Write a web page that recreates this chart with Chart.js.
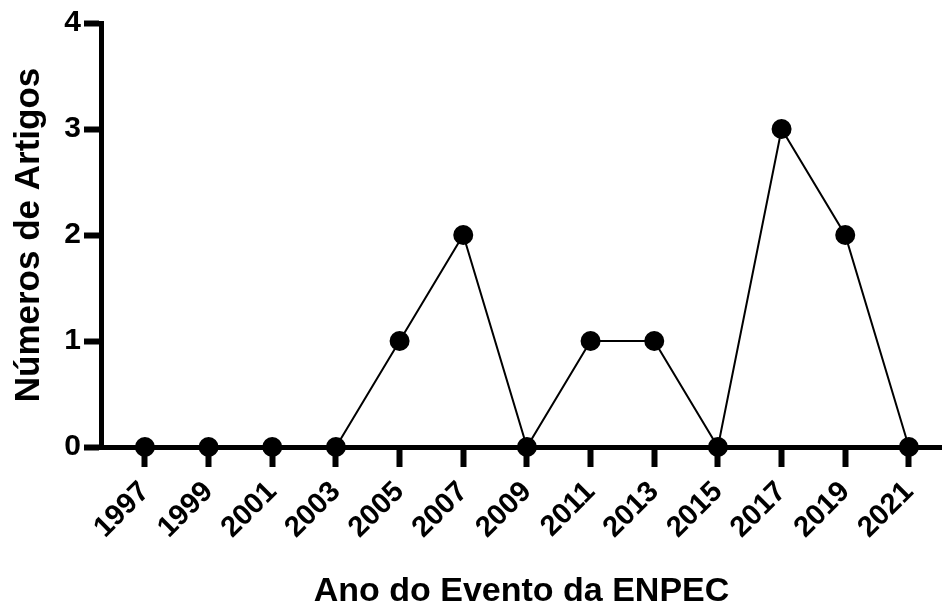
<!DOCTYPE html>
<html>
<head>
<meta charset="utf-8">
<script src="https://cdn.jsdelivr.net/npm/chart.js@4"></script>
<style>
  html, body { margin: 0; padding: 0; background: #fff; }
  #wrap { width: 942px; height: 606px; }
</style>
</head>
<body>
<div id="wrap"><canvas id="enpecChart"></canvas></div>
<script>
const anos = [1997, 1999, 2001, 2003, 2005, 2007, 2009, 2011, 2013, 2015, 2017, 2019, 2021];
const artigos = [0, 0, 0, 0, 1, 2, 0, 1, 1, 0, 3, 2, 0];
const yTicks = [0, 1, 2, 3, 4];

const fonte = 'Liberation Sans, Arial, sans-serif';

const ctx = document.getElementById('enpecChart').getContext('2d');
const enpecChart = new Chart(ctx, {
    type: 'line',
    data: {
        datasets: [{
            data: anos.map((a, i) => ({ x: a, y: artigos[i] })),
            borderColor: '#000',
            backgroundColor: '#000',
            borderWidth: 2,
            pointRadius: 9,
            pointHoverRadius: 9,
            tension: 0,
            clip: false
        }]
    },
    options: {
        responsive: true,
        maintainAspectRatio: false,
        animation: false,
        layout: { autoPadding: false, padding: { top: 23, right: 0, left: 8, bottom: 0 } },
        plugins: {
            legend: { display: false },
            tooltip: { enabled: false }
        },
        scales: {
            x: {
                type: 'linear',
                min: 1995.62,
                max: 2022.04,
                afterBuildTicks: (scale) => { scale.ticks = anos.map(v => ({ value: v })); },
                afterFit: (scale) => {
                    scale.height = 159;
                    scale.paddingLeft = 0;
                    scale.paddingRight = 0;
                },
                grid: {
                    display: true,
                    drawOnChartArea: false,
                    drawTicks: true,
                    tickLength: 20,
                    tickWidth: 6,
                    tickColor: '#000'
                },
                border: { display: true, color: '#000', width: 5 },
                ticks: {
                    color: '#000',
                    font: { family: fonte, size: 29, weight: 'bold' },
                    maxRotation: 45,
                    minRotation: 45,
                    padding: 8,
                    callback: (v) => String(v)
                },
                title: {
                    display: true,
                    text: 'Ano do Evento da ENPEC',
                    color: '#000',
                    font: { family: fonte, size: 34, weight: 'bold' },
                    padding: { top: 0, bottom: -6 }
                }
            },
            y: {
                min: 0,
                max: 4,
                afterBuildTicks: (scale) => { scale.ticks = yTicks.map(v => ({ value: v })); },
                afterFit: (scale) => { scale.width = 93; },
                grid: {
                    display: true,
                    drawOnChartArea: false,
                    drawTicks: true,
                    tickLength: 17,
                    tickWidth: 6,
                    tickColor: '#000'
                },
                border: { display: true, color: '#000', width: 5 },
                ticks: {
                    color: '#000',
                    font: { family: fonte, size: 30, weight: 'bold' },
                    padding: 3
                },
                title: {
                    display: true,
                    text: 'Números de Artigos',
                    color: '#000',
                    font: { family: fonte, size: 35, weight: 'bold' },
                    padding: { top: 0, bottom: 6 }
                }
            }
        }
    }
});
</script>
</body>
</html>
